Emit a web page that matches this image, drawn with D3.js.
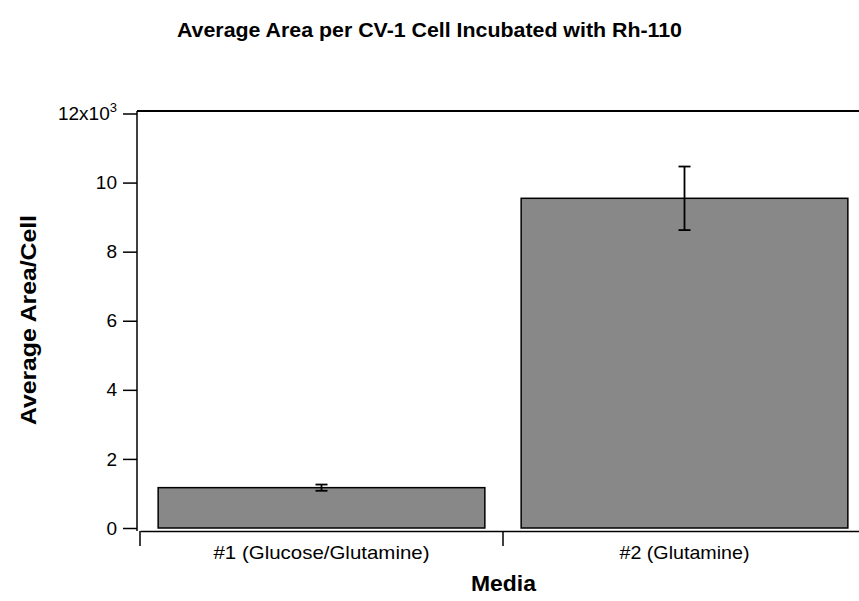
<!DOCTYPE html>
<html><head><meta charset="utf-8">
<script src="https://cdn.jsdelivr.net/npm/d3@7"></script>
<style>body{margin:0;background:#fff}svg{display:block;font-family:"Liberation Sans",Arial,sans-serif}</style>
</head><body><svg id="c" width="859" height="601"></svg>
<script>
const categories = ["#1 (Glucose/Glutamine)", "#2 (Glutamine)"];
const values = [1168, 9545];
const errors = [90, 920];
const yTicks = [0, 2000, 4000, 6000, 8000, 10000, 12000];
const yTickLabels = ["0", "2", "4", "6", "8", "10", "12"];
const title = "Average Area per CV-1 Cell Incubated with Rh-110";
const yLabel = "Average Area/Cell";
const xLabel = "Media";

const svg = d3.select("#c");
const x = d3.scaleBand().domain(categories).range([140, 866]).paddingInner(0).paddingOuter(0);
const y = d3.scaleLinear().domain([0, 12000]).range([528, 113.5]);
const barPad = 0.05;

// frame lines
svg.append("line").attr("x1", 137).attr("x2", 859).attr("y1", 111).attr("y2", 111).attr("stroke", "#000").attr("stroke-width", 2);
svg.append("line").attr("x1", 137).attr("x2", 137).attr("y1", 111).attr("y2", 531).attr("stroke", "#000").attr("stroke-width", 1.5);

// bars
svg.selectAll("rect.bar").data(values).enter().append("rect")
  .attr("x", (d, i) => x(categories[i]) + x.bandwidth() * barPad)
  .attr("width", x.bandwidth() * (1 - 2 * barPad))
  .attr("y", d => y(d)).attr("height", d => y(0) - y(d))
  .attr("fill", "#888888").attr("stroke", "#000").attr("stroke-width", 1.5);

// error bars
values.forEach((v, i) => {
  const cx = x(categories[i]) + x.bandwidth() / 2;
  const g = svg.append("g").attr("stroke", "#000").attr("stroke-width", 1.8);
  g.append("line").attr("x1", cx).attr("x2", cx).attr("y1", y(v + errors[i])).attr("y2", y(v - errors[i]));
  g.append("line").attr("x1", cx - 6).attr("x2", cx + 6).attr("y1", y(v + errors[i])).attr("y2", y(v + errors[i]));
  g.append("line").attr("x1", cx - 6).attr("x2", cx + 6).attr("y1", y(v - errors[i])).attr("y2", y(v - errors[i]));
});

// y axis ticks
const yAxis = d3.axisLeft(y).tickValues(yTicks).tickSize(14).tickPadding(6)
  .tickFormat((d, i) => yTickLabels[i]);
const yg = svg.append("g").attr("transform", "translate(137,0)").call(yAxis);
yg.select(".domain").remove();
yg.selectAll(".tick line").attr("stroke-width", 1.5);
yg.selectAll(".tick text").attr("font-size", 19).attr("fill", "#000").attr("font-family", "Liberation Sans, Arial, sans-serif");
yg.selectAll(".tick text").filter(d => d === 12000).each(function() {
  const t = d3.select(this); t.text("");
  t.append("tspan").text("12x10");
  t.append("tspan").attr("dy", "-0.6em").attr("font-size", 13).text("3");
});

// x axis
const catWidths = [216, 130];
const xAxis = d3.axisBottom(x).tickSize(0).tickPadding(15);
const xg = svg.append("g").attr("transform", "translate(0,531)").call(xAxis);
xg.select(".domain").attr("stroke-width", 1.5);
xg.selectAll(".tick text").attr("font-size", 19).attr("fill", "#000").attr("font-family", "Liberation Sans, Arial, sans-serif")
  .attr("textLength", (d, i) => catWidths[i]).attr("lengthAdjust", "spacingAndGlyphs");
const bounds = [140, 140 + x.bandwidth(), 866];
svg.append("g").selectAll("line").data(bounds).enter().append("line")
  .attr("x1", d => d).attr("x2", d => d).attr("y1", 531).attr("y2", 546)
  .attr("stroke", "#000").attr("stroke-width", 1.5);

// labels
svg.append("text").attr("x", 429.5).attr("y", 37).attr("text-anchor", "middle")
  .attr("font-size", 20).attr("font-weight", "bold").attr("textLength", 505).attr("lengthAdjust", "spacingAndGlyphs").text(title);
svg.append("text").attr("transform", "translate(36,320) rotate(-90)").attr("text-anchor", "middle")
  .attr("font-size", 22).attr("font-weight", "bold").attr("textLength", 210).attr("lengthAdjust", "spacingAndGlyphs").text(yLabel);
svg.append("text").attr("x", 503.5).attr("y", 591).attr("text-anchor", "middle")
  .attr("font-size", 22).attr("font-weight", "bold").attr("textLength", 65).attr("lengthAdjust", "spacingAndGlyphs").text(xLabel);
</script></body></html>
